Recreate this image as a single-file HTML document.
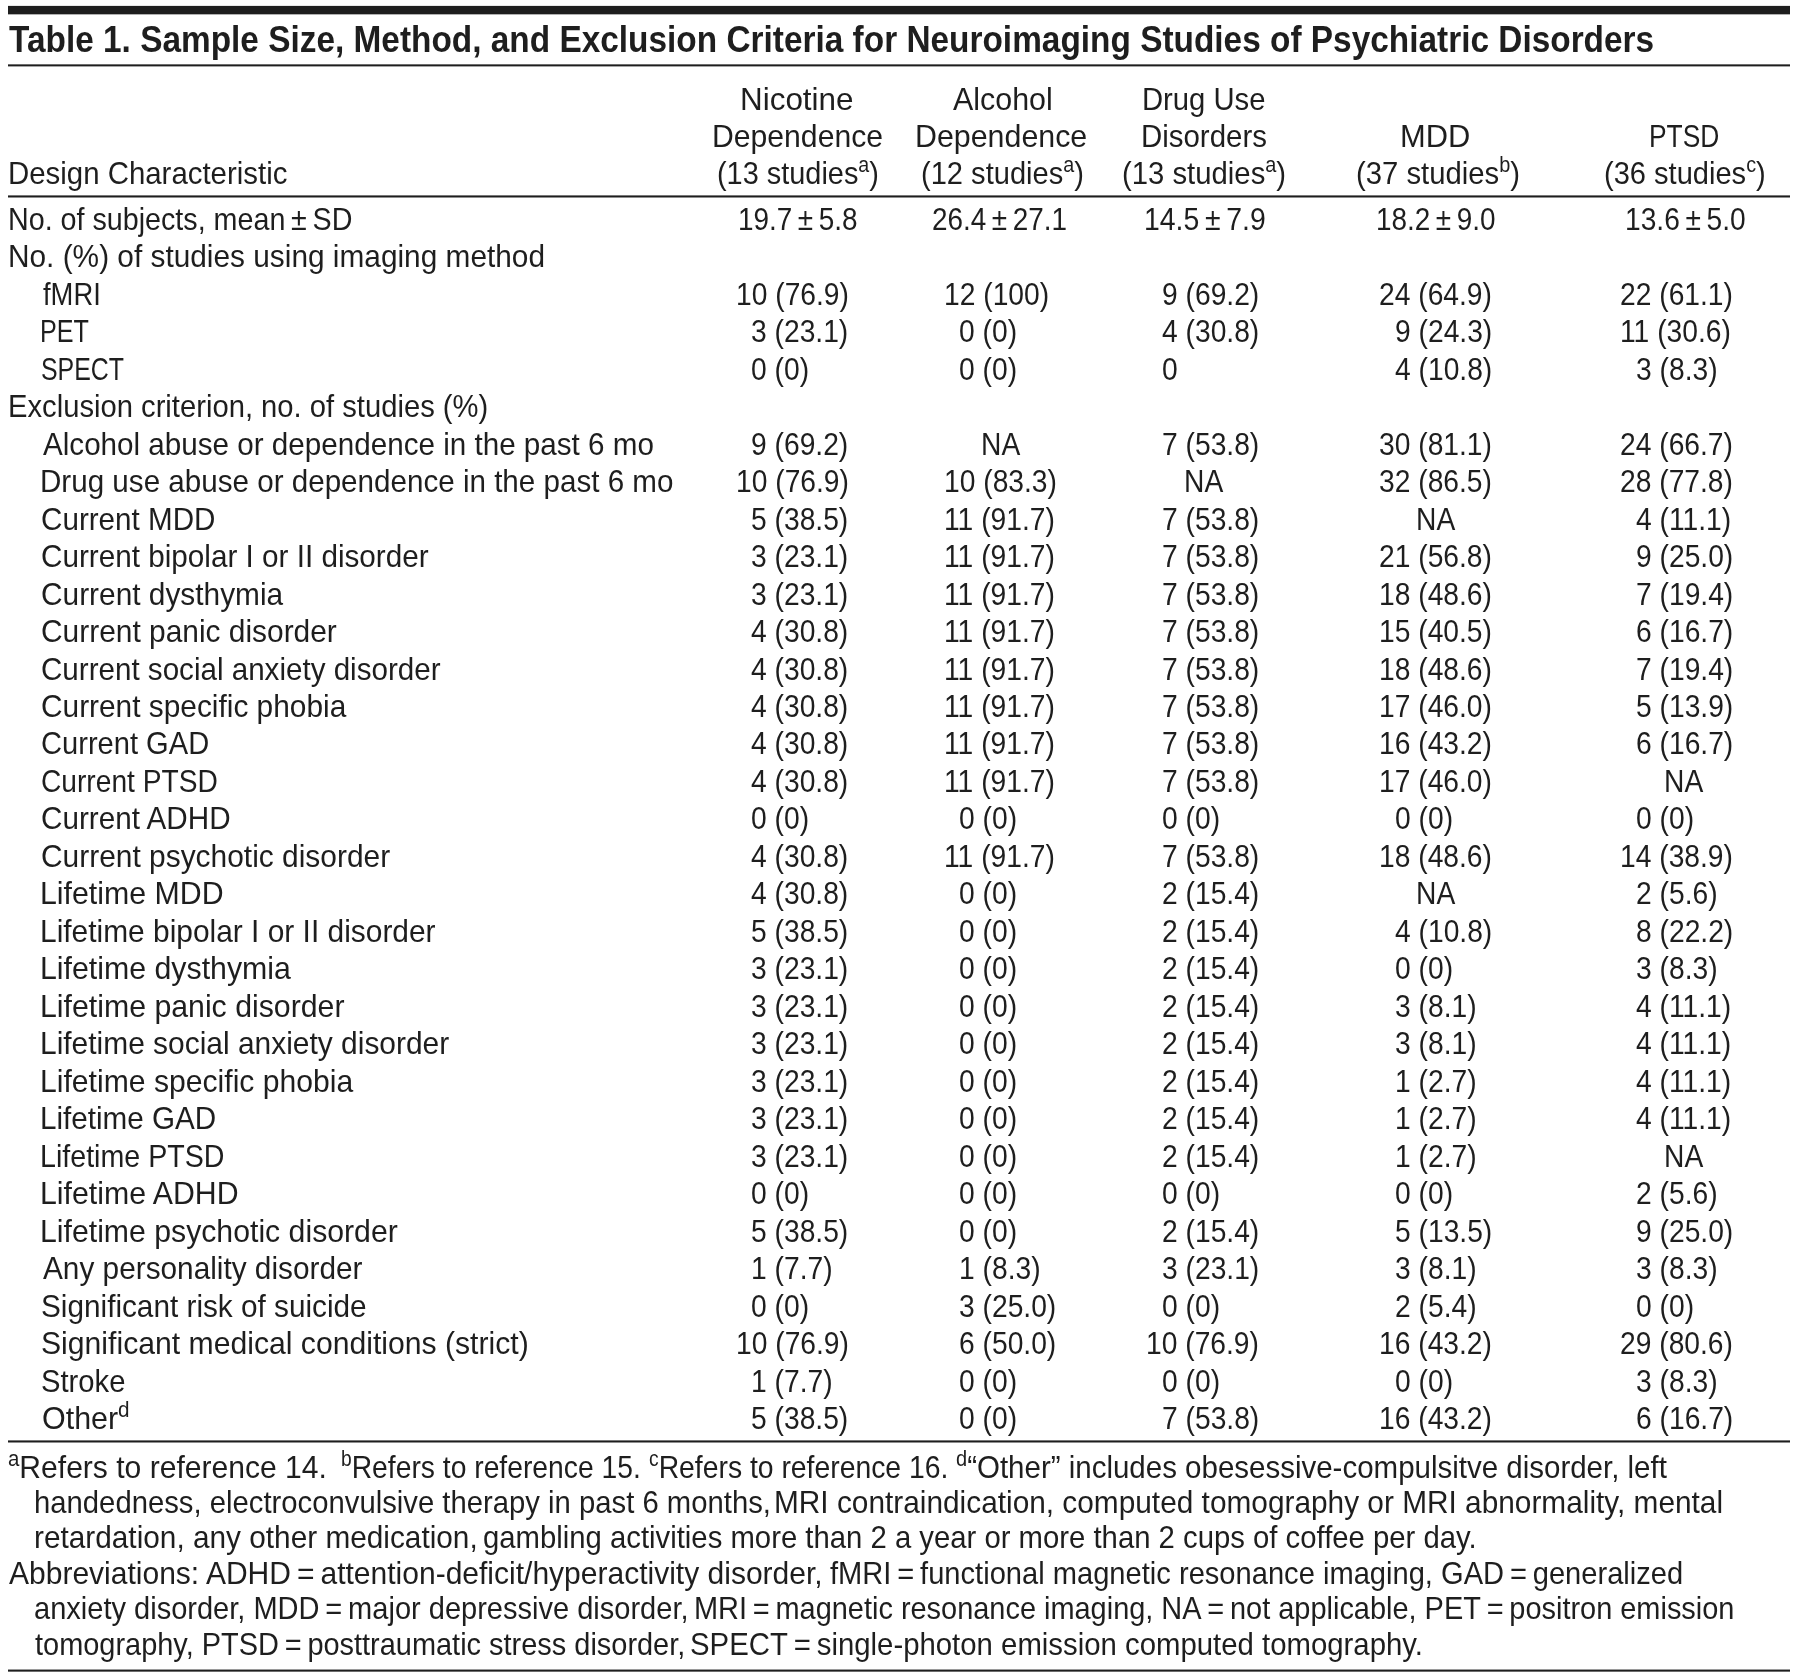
<!DOCTYPE html><html><head><meta charset="utf-8"><title>Table 1</title><style>html,body{margin:0;padding:0;background:#fff;}
body{position:relative;overflow:hidden;font-family:"Liberation Sans",sans-serif;color:#1e1e1e;}
.t{position:absolute;white-space:pre;}
.r{position:absolute;background:#1e1e1e;}
.sup{font-size:0.68em;position:relative;top:-0.56em;}
.w{position:absolute;left:0;top:0;width:1798px;height:1677px;will-change:transform;}
body{width:1798px;height:1677px;}</style></head><body>
<div class="w">
<div class="t" style="left:8.50px;top:20.70px;font-size:37.4px;line-height:37.4px;transform:scaleX(0.8930);transform-origin:0 0;font-weight:bold;">Table 1. Sample Size, Method, and Exclusion Criteria for Neuroimaging Studies of Psychiatric Disorders</div>
<div class="t" style="left:7.64px;top:157.00px;font-size:32.0px;line-height:32.0px;transform:scaleX(0.9187);transform-origin:0 0;">Design Characteristic</div>
<div class="t" style="left:740.45px;top:82.50px;font-size:32.0px;line-height:32.0px;transform:scaleX(0.9820);transform-origin:0 0;">Nicotine</div>
<div class="t" style="left:711.67px;top:119.70px;font-size:32.0px;line-height:32.0px;transform:scaleX(0.9424);transform-origin:0 0;">Dependence</div>
<div class="t" style="left:717.09px;top:157.00px;font-size:32.0px;line-height:32.0px;transform:scaleX(0.9029);transform-origin:0 0;">(13 studies<span class="sup">a</span>)</div>
<div class="t" style="left:952.50px;top:82.50px;font-size:32.0px;line-height:32.0px;transform:scaleX(0.9505);transform-origin:0 0;">Alcohol</div>
<div class="t" style="left:915.15px;top:119.70px;font-size:32.0px;line-height:32.0px;transform:scaleX(0.9492);transform-origin:0 0;">Dependence</div>
<div class="t" style="left:920.68px;top:157.00px;font-size:32.0px;line-height:32.0px;transform:scaleX(0.9086);transform-origin:0 0;">(12 studies<span class="sup">a</span>)</div>
<div class="t" style="left:1141.76px;top:82.50px;font-size:32.0px;line-height:32.0px;transform:scaleX(0.9137);transform-origin:0 0;">Drug Use</div>
<div class="t" style="left:1140.64px;top:119.70px;font-size:32.0px;line-height:32.0px;transform:scaleX(0.9195);transform-origin:0 0;">Disorders</div>
<div class="t" style="left:1122.17px;top:157.00px;font-size:32.0px;line-height:32.0px;transform:scaleX(0.9154);transform-origin:0 0;">(13 studies<span class="sup">a</span>)</div>
<div class="t" style="left:1399.71px;top:119.70px;font-size:32.0px;line-height:32.0px;transform:scaleX(0.9647);transform-origin:0 0;">MDD</div>
<div class="t" style="left:1356.17px;top:157.00px;font-size:32.0px;line-height:32.0px;transform:scaleX(0.9149);transform-origin:0 0;">(37 studies<span class="sup">b</span>)</div>
<div class="t" style="left:1649.13px;top:119.70px;font-size:32.0px;line-height:32.0px;transform:scaleX(0.8247);transform-origin:0 0;">PTSD</div>
<div class="t" style="left:1604.18px;top:157.00px;font-size:32.0px;line-height:32.0px;transform:scaleX(0.9080);transform-origin:0 0;">(36 studies<span class="sup">c</span>)</div>
<div class="t" style="left:7.91px;top:202.80px;font-size:32.0px;line-height:32.0px;transform:scaleX(0.8961);transform-origin:0 0;">No. of subjects, mean ± SD</div>
<div class="t" style="left:738.26px;top:202.80px;font-size:32.0px;line-height:32.0px;transform:scaleX(0.8716);transform-origin:0 0;">19.7 ± 5.8</div>
<div class="t" style="left:931.86px;top:202.80px;font-size:32.0px;line-height:32.0px;transform:scaleX(0.8711);transform-origin:0 0;">26.4 ± 27.1</div>
<div class="t" style="left:1143.82px;top:202.80px;font-size:32.0px;line-height:32.0px;transform:scaleX(0.8881);transform-origin:0 0;">14.5 ± 7.9</div>
<div class="t" style="left:1376.26px;top:202.80px;font-size:32.0px;line-height:32.0px;transform:scaleX(0.8716);transform-origin:0 0;">18.2 ± 9.0</div>
<div class="t" style="left:1625.34px;top:202.80px;font-size:32.0px;line-height:32.0px;transform:scaleX(0.8799);transform-origin:0 0;">13.6 ± 5.0</div>
<div class="t" style="left:7.80px;top:240.28px;font-size:32.0px;line-height:32.0px;transform:scaleX(0.9319);transform-origin:0 0;">No. (%) of studies using imaging method</div>
<div class="t" style="left:42.80px;top:277.75px;font-size:32.0px;line-height:32.0px;transform:scaleX(0.8554);transform-origin:0 0;">fMRI</div>
<div class="t" style="left:735.65px;top:277.75px;font-size:32.0px;line-height:32.0px;transform:scaleX(0.8820);transform-origin:0 0;">10 (76.9)</div>
<div class="t" style="left:943.65px;top:277.75px;font-size:32.0px;line-height:32.0px;transform:scaleX(0.8820);transform-origin:0 0;">12 (100)</div>
<div class="t" style="left:1162.08px;top:277.75px;font-size:32.0px;line-height:32.0px;transform:scaleX(0.8820);transform-origin:0 0;">9 (69.2)</div>
<div class="t" style="left:1379.38px;top:277.75px;font-size:32.0px;line-height:32.0px;transform:scaleX(0.8820);transform-origin:0 0;">24 (64.9)</div>
<div class="t" style="left:1620.18px;top:277.75px;font-size:32.0px;line-height:32.0px;transform:scaleX(0.8820);transform-origin:0 0;">22 (61.1)</div>
<div class="t" style="left:40.44px;top:315.23px;font-size:32.0px;line-height:32.0px;transform:scaleX(0.7864);transform-origin:0 0;">PET</div>
<div class="t" style="left:751.34px;top:315.23px;font-size:32.0px;line-height:32.0px;transform:scaleX(0.8820);transform-origin:0 0;">3 (23.1)</div>
<div class="t" style="left:959.34px;top:315.23px;font-size:32.0px;line-height:32.0px;transform:scaleX(0.8820);transform-origin:0 0;">0 (0)</div>
<div class="t" style="left:1162.08px;top:315.23px;font-size:32.0px;line-height:32.0px;transform:scaleX(0.8820);transform-origin:0 0;">4 (30.8)</div>
<div class="t" style="left:1395.08px;top:315.23px;font-size:32.0px;line-height:32.0px;transform:scaleX(0.8820);transform-origin:0 0;">9 (24.3)</div>
<div class="t" style="left:1620.18px;top:315.23px;font-size:32.0px;line-height:32.0px;transform:scaleX(0.8820);transform-origin:0 0;">11 (30.6)</div>
<div class="t" style="left:41.24px;top:352.70px;font-size:32.0px;line-height:32.0px;transform:scaleX(0.7788);transform-origin:0 0;">SPECT</div>
<div class="t" style="left:751.34px;top:352.70px;font-size:32.0px;line-height:32.0px;transform:scaleX(0.8820);transform-origin:0 0;">0 (0)</div>
<div class="t" style="left:959.34px;top:352.70px;font-size:32.0px;line-height:32.0px;transform:scaleX(0.8820);transform-origin:0 0;">0 (0)</div>
<div class="t" style="left:1162.08px;top:352.70px;font-size:32.0px;line-height:32.0px;transform:scaleX(0.8820);transform-origin:0 0;">0</div>
<div class="t" style="left:1395.08px;top:352.70px;font-size:32.0px;line-height:32.0px;transform:scaleX(0.8820);transform-origin:0 0;">4 (10.8)</div>
<div class="t" style="left:1635.88px;top:352.70px;font-size:32.0px;line-height:32.0px;transform:scaleX(0.8820);transform-origin:0 0;">3 (8.3)</div>
<div class="t" style="left:7.86px;top:390.18px;font-size:32.0px;line-height:32.0px;transform:scaleX(0.9123);transform-origin:0 0;">Exclusion criterion, no. of studies (%)</div>
<div class="t" style="left:42.80px;top:427.65px;font-size:32.0px;line-height:32.0px;transform:scaleX(0.9256);transform-origin:0 0;">Alcohol abuse or dependence in the past 6 mo</div>
<div class="t" style="left:751.34px;top:427.65px;font-size:32.0px;line-height:32.0px;transform:scaleX(0.8820);transform-origin:0 0;">9 (69.2)</div>
<div class="t" style="left:981.27px;top:427.65px;font-size:32.0px;line-height:32.0px;transform:scaleX(0.8820);transform-origin:0 0;">NA</div>
<div class="t" style="left:1162.08px;top:427.65px;font-size:32.0px;line-height:32.0px;transform:scaleX(0.8820);transform-origin:0 0;">7 (53.8)</div>
<div class="t" style="left:1379.38px;top:427.65px;font-size:32.0px;line-height:32.0px;transform:scaleX(0.8820);transform-origin:0 0;">30 (81.1)</div>
<div class="t" style="left:1620.18px;top:427.65px;font-size:32.0px;line-height:32.0px;transform:scaleX(0.8820);transform-origin:0 0;">24 (66.7)</div>
<div class="t" style="left:40.03px;top:465.12px;font-size:32.0px;line-height:32.0px;transform:scaleX(0.9249);transform-origin:0 0;">Drug use abuse or dependence in the past 6 mo</div>
<div class="t" style="left:735.65px;top:465.12px;font-size:32.0px;line-height:32.0px;transform:scaleX(0.8820);transform-origin:0 0;">10 (76.9)</div>
<div class="t" style="left:943.65px;top:465.12px;font-size:32.0px;line-height:32.0px;transform:scaleX(0.8820);transform-origin:0 0;">10 (83.3)</div>
<div class="t" style="left:1183.77px;top:465.12px;font-size:32.0px;line-height:32.0px;transform:scaleX(0.8820);transform-origin:0 0;">NA</div>
<div class="t" style="left:1379.38px;top:465.12px;font-size:32.0px;line-height:32.0px;transform:scaleX(0.8820);transform-origin:0 0;">32 (86.5)</div>
<div class="t" style="left:1620.18px;top:465.12px;font-size:32.0px;line-height:32.0px;transform:scaleX(0.8820);transform-origin:0 0;">28 (77.8)</div>
<div class="t" style="left:40.95px;top:502.60px;font-size:32.0px;line-height:32.0px;transform:scaleX(0.9259);transform-origin:0 0;">Current MDD</div>
<div class="t" style="left:751.34px;top:502.60px;font-size:32.0px;line-height:32.0px;transform:scaleX(0.8820);transform-origin:0 0;">5 (38.5)</div>
<div class="t" style="left:943.65px;top:502.60px;font-size:32.0px;line-height:32.0px;transform:scaleX(0.8820);transform-origin:0 0;">11 (91.7)</div>
<div class="t" style="left:1162.08px;top:502.60px;font-size:32.0px;line-height:32.0px;transform:scaleX(0.8820);transform-origin:0 0;">7 (53.8)</div>
<div class="t" style="left:1415.77px;top:502.60px;font-size:32.0px;line-height:32.0px;transform:scaleX(0.8820);transform-origin:0 0;">NA</div>
<div class="t" style="left:1635.88px;top:502.60px;font-size:32.0px;line-height:32.0px;transform:scaleX(0.8820);transform-origin:0 0;">4 (11.1)</div>
<div class="t" style="left:40.95px;top:540.08px;font-size:32.0px;line-height:32.0px;transform:scaleX(0.9275);transform-origin:0 0;">Current bipolar I or II disorder</div>
<div class="t" style="left:751.34px;top:540.08px;font-size:32.0px;line-height:32.0px;transform:scaleX(0.8820);transform-origin:0 0;">3 (23.1)</div>
<div class="t" style="left:943.65px;top:540.08px;font-size:32.0px;line-height:32.0px;transform:scaleX(0.8820);transform-origin:0 0;">11 (91.7)</div>
<div class="t" style="left:1162.08px;top:540.08px;font-size:32.0px;line-height:32.0px;transform:scaleX(0.8820);transform-origin:0 0;">7 (53.8)</div>
<div class="t" style="left:1379.38px;top:540.08px;font-size:32.0px;line-height:32.0px;transform:scaleX(0.8820);transform-origin:0 0;">21 (56.8)</div>
<div class="t" style="left:1635.88px;top:540.08px;font-size:32.0px;line-height:32.0px;transform:scaleX(0.8820);transform-origin:0 0;">9 (25.0)</div>
<div class="t" style="left:40.93px;top:577.55px;font-size:32.0px;line-height:32.0px;transform:scaleX(0.9329);transform-origin:0 0;">Current dysthymia</div>
<div class="t" style="left:751.34px;top:577.55px;font-size:32.0px;line-height:32.0px;transform:scaleX(0.8820);transform-origin:0 0;">3 (23.1)</div>
<div class="t" style="left:943.65px;top:577.55px;font-size:32.0px;line-height:32.0px;transform:scaleX(0.8820);transform-origin:0 0;">11 (91.7)</div>
<div class="t" style="left:1162.08px;top:577.55px;font-size:32.0px;line-height:32.0px;transform:scaleX(0.8820);transform-origin:0 0;">7 (53.8)</div>
<div class="t" style="left:1379.38px;top:577.55px;font-size:32.0px;line-height:32.0px;transform:scaleX(0.8820);transform-origin:0 0;">18 (48.6)</div>
<div class="t" style="left:1635.88px;top:577.55px;font-size:32.0px;line-height:32.0px;transform:scaleX(0.8820);transform-origin:0 0;">7 (19.4)</div>
<div class="t" style="left:40.93px;top:615.03px;font-size:32.0px;line-height:32.0px;transform:scaleX(0.9344);transform-origin:0 0;">Current panic disorder</div>
<div class="t" style="left:751.34px;top:615.03px;font-size:32.0px;line-height:32.0px;transform:scaleX(0.8820);transform-origin:0 0;">4 (30.8)</div>
<div class="t" style="left:943.65px;top:615.03px;font-size:32.0px;line-height:32.0px;transform:scaleX(0.8820);transform-origin:0 0;">11 (91.7)</div>
<div class="t" style="left:1162.08px;top:615.03px;font-size:32.0px;line-height:32.0px;transform:scaleX(0.8820);transform-origin:0 0;">7 (53.8)</div>
<div class="t" style="left:1379.38px;top:615.03px;font-size:32.0px;line-height:32.0px;transform:scaleX(0.8820);transform-origin:0 0;">15 (40.5)</div>
<div class="t" style="left:1635.88px;top:615.03px;font-size:32.0px;line-height:32.0px;transform:scaleX(0.8820);transform-origin:0 0;">6 (16.7)</div>
<div class="t" style="left:40.95px;top:652.50px;font-size:32.0px;line-height:32.0px;transform:scaleX(0.9244);transform-origin:0 0;">Current social anxiety disorder</div>
<div class="t" style="left:751.34px;top:652.50px;font-size:32.0px;line-height:32.0px;transform:scaleX(0.8820);transform-origin:0 0;">4 (30.8)</div>
<div class="t" style="left:943.65px;top:652.50px;font-size:32.0px;line-height:32.0px;transform:scaleX(0.8820);transform-origin:0 0;">11 (91.7)</div>
<div class="t" style="left:1162.08px;top:652.50px;font-size:32.0px;line-height:32.0px;transform:scaleX(0.8820);transform-origin:0 0;">7 (53.8)</div>
<div class="t" style="left:1379.38px;top:652.50px;font-size:32.0px;line-height:32.0px;transform:scaleX(0.8820);transform-origin:0 0;">18 (48.6)</div>
<div class="t" style="left:1635.88px;top:652.50px;font-size:32.0px;line-height:32.0px;transform:scaleX(0.8820);transform-origin:0 0;">7 (19.4)</div>
<div class="t" style="left:40.93px;top:689.98px;font-size:32.0px;line-height:32.0px;transform:scaleX(0.9326);transform-origin:0 0;">Current specific phobia</div>
<div class="t" style="left:751.34px;top:689.98px;font-size:32.0px;line-height:32.0px;transform:scaleX(0.8820);transform-origin:0 0;">4 (30.8)</div>
<div class="t" style="left:943.65px;top:689.98px;font-size:32.0px;line-height:32.0px;transform:scaleX(0.8820);transform-origin:0 0;">11 (91.7)</div>
<div class="t" style="left:1162.08px;top:689.98px;font-size:32.0px;line-height:32.0px;transform:scaleX(0.8820);transform-origin:0 0;">7 (53.8)</div>
<div class="t" style="left:1379.38px;top:689.98px;font-size:32.0px;line-height:32.0px;transform:scaleX(0.8820);transform-origin:0 0;">17 (46.0)</div>
<div class="t" style="left:1635.88px;top:689.98px;font-size:32.0px;line-height:32.0px;transform:scaleX(0.8820);transform-origin:0 0;">5 (13.9)</div>
<div class="t" style="left:40.98px;top:727.45px;font-size:32.0px;line-height:32.0px;transform:scaleX(0.9094);transform-origin:0 0;">Current GAD</div>
<div class="t" style="left:751.34px;top:727.45px;font-size:32.0px;line-height:32.0px;transform:scaleX(0.8820);transform-origin:0 0;">4 (30.8)</div>
<div class="t" style="left:943.65px;top:727.45px;font-size:32.0px;line-height:32.0px;transform:scaleX(0.8820);transform-origin:0 0;">11 (91.7)</div>
<div class="t" style="left:1162.08px;top:727.45px;font-size:32.0px;line-height:32.0px;transform:scaleX(0.8820);transform-origin:0 0;">7 (53.8)</div>
<div class="t" style="left:1379.38px;top:727.45px;font-size:32.0px;line-height:32.0px;transform:scaleX(0.8820);transform-origin:0 0;">16 (43.2)</div>
<div class="t" style="left:1635.88px;top:727.45px;font-size:32.0px;line-height:32.0px;transform:scaleX(0.8820);transform-origin:0 0;">6 (16.7)</div>
<div class="t" style="left:41.04px;top:764.92px;font-size:32.0px;line-height:32.0px;transform:scaleX(0.8797);transform-origin:0 0;">Current PTSD</div>
<div class="t" style="left:751.34px;top:764.92px;font-size:32.0px;line-height:32.0px;transform:scaleX(0.8820);transform-origin:0 0;">4 (30.8)</div>
<div class="t" style="left:943.65px;top:764.92px;font-size:32.0px;line-height:32.0px;transform:scaleX(0.8820);transform-origin:0 0;">11 (91.7)</div>
<div class="t" style="left:1162.08px;top:764.92px;font-size:32.0px;line-height:32.0px;transform:scaleX(0.8820);transform-origin:0 0;">7 (53.8)</div>
<div class="t" style="left:1379.38px;top:764.92px;font-size:32.0px;line-height:32.0px;transform:scaleX(0.8820);transform-origin:0 0;">17 (46.0)</div>
<div class="t" style="left:1664.27px;top:764.92px;font-size:32.0px;line-height:32.0px;transform:scaleX(0.8820);transform-origin:0 0;">NA</div>
<div class="t" style="left:40.95px;top:802.40px;font-size:32.0px;line-height:32.0px;transform:scaleX(0.9269);transform-origin:0 0;">Current ADHD</div>
<div class="t" style="left:751.34px;top:802.40px;font-size:32.0px;line-height:32.0px;transform:scaleX(0.8820);transform-origin:0 0;">0 (0)</div>
<div class="t" style="left:959.34px;top:802.40px;font-size:32.0px;line-height:32.0px;transform:scaleX(0.8820);transform-origin:0 0;">0 (0)</div>
<div class="t" style="left:1162.08px;top:802.40px;font-size:32.0px;line-height:32.0px;transform:scaleX(0.8820);transform-origin:0 0;">0 (0)</div>
<div class="t" style="left:1395.08px;top:802.40px;font-size:32.0px;line-height:32.0px;transform:scaleX(0.8820);transform-origin:0 0;">0 (0)</div>
<div class="t" style="left:1635.88px;top:802.40px;font-size:32.0px;line-height:32.0px;transform:scaleX(0.8820);transform-origin:0 0;">0 (0)</div>
<div class="t" style="left:40.93px;top:839.88px;font-size:32.0px;line-height:32.0px;transform:scaleX(0.9348);transform-origin:0 0;">Current psychotic disorder</div>
<div class="t" style="left:751.34px;top:839.88px;font-size:32.0px;line-height:32.0px;transform:scaleX(0.8820);transform-origin:0 0;">4 (30.8)</div>
<div class="t" style="left:943.65px;top:839.88px;font-size:32.0px;line-height:32.0px;transform:scaleX(0.8820);transform-origin:0 0;">11 (91.7)</div>
<div class="t" style="left:1162.08px;top:839.88px;font-size:32.0px;line-height:32.0px;transform:scaleX(0.8820);transform-origin:0 0;">7 (53.8)</div>
<div class="t" style="left:1379.38px;top:839.88px;font-size:32.0px;line-height:32.0px;transform:scaleX(0.8820);transform-origin:0 0;">18 (48.6)</div>
<div class="t" style="left:1620.18px;top:839.88px;font-size:32.0px;line-height:32.0px;transform:scaleX(0.8820);transform-origin:0 0;">14 (38.9)</div>
<div class="t" style="left:39.96px;top:877.35px;font-size:32.0px;line-height:32.0px;transform:scaleX(0.9471);transform-origin:0 0;">Lifetime MDD</div>
<div class="t" style="left:751.34px;top:877.35px;font-size:32.0px;line-height:32.0px;transform:scaleX(0.8820);transform-origin:0 0;">4 (30.8)</div>
<div class="t" style="left:959.34px;top:877.35px;font-size:32.0px;line-height:32.0px;transform:scaleX(0.8820);transform-origin:0 0;">0 (0)</div>
<div class="t" style="left:1162.08px;top:877.35px;font-size:32.0px;line-height:32.0px;transform:scaleX(0.8820);transform-origin:0 0;">2 (15.4)</div>
<div class="t" style="left:1415.77px;top:877.35px;font-size:32.0px;line-height:32.0px;transform:scaleX(0.8820);transform-origin:0 0;">NA</div>
<div class="t" style="left:1635.88px;top:877.35px;font-size:32.0px;line-height:32.0px;transform:scaleX(0.8820);transform-origin:0 0;">2 (5.6)</div>
<div class="t" style="left:40.00px;top:914.83px;font-size:32.0px;line-height:32.0px;transform:scaleX(0.9345);transform-origin:0 0;">Lifetime bipolar I or II disorder</div>
<div class="t" style="left:751.34px;top:914.83px;font-size:32.0px;line-height:32.0px;transform:scaleX(0.8820);transform-origin:0 0;">5 (38.5)</div>
<div class="t" style="left:959.34px;top:914.83px;font-size:32.0px;line-height:32.0px;transform:scaleX(0.8820);transform-origin:0 0;">0 (0)</div>
<div class="t" style="left:1162.08px;top:914.83px;font-size:32.0px;line-height:32.0px;transform:scaleX(0.8820);transform-origin:0 0;">2 (15.4)</div>
<div class="t" style="left:1395.08px;top:914.83px;font-size:32.0px;line-height:32.0px;transform:scaleX(0.8820);transform-origin:0 0;">4 (10.8)</div>
<div class="t" style="left:1635.88px;top:914.83px;font-size:32.0px;line-height:32.0px;transform:scaleX(0.8820);transform-origin:0 0;">8 (22.2)</div>
<div class="t" style="left:39.96px;top:952.30px;font-size:32.0px;line-height:32.0px;transform:scaleX(0.9469);transform-origin:0 0;">Lifetime dysthymia</div>
<div class="t" style="left:751.34px;top:952.30px;font-size:32.0px;line-height:32.0px;transform:scaleX(0.8820);transform-origin:0 0;">3 (23.1)</div>
<div class="t" style="left:959.34px;top:952.30px;font-size:32.0px;line-height:32.0px;transform:scaleX(0.8820);transform-origin:0 0;">0 (0)</div>
<div class="t" style="left:1162.08px;top:952.30px;font-size:32.0px;line-height:32.0px;transform:scaleX(0.8820);transform-origin:0 0;">2 (15.4)</div>
<div class="t" style="left:1395.08px;top:952.30px;font-size:32.0px;line-height:32.0px;transform:scaleX(0.8820);transform-origin:0 0;">0 (0)</div>
<div class="t" style="left:1635.88px;top:952.30px;font-size:32.0px;line-height:32.0px;transform:scaleX(0.8820);transform-origin:0 0;">3 (8.3)</div>
<div class="t" style="left:39.96px;top:989.78px;font-size:32.0px;line-height:32.0px;transform:scaleX(0.9459);transform-origin:0 0;">Lifetime panic disorder</div>
<div class="t" style="left:751.34px;top:989.78px;font-size:32.0px;line-height:32.0px;transform:scaleX(0.8820);transform-origin:0 0;">3 (23.1)</div>
<div class="t" style="left:959.34px;top:989.78px;font-size:32.0px;line-height:32.0px;transform:scaleX(0.8820);transform-origin:0 0;">0 (0)</div>
<div class="t" style="left:1162.08px;top:989.78px;font-size:32.0px;line-height:32.0px;transform:scaleX(0.8820);transform-origin:0 0;">2 (15.4)</div>
<div class="t" style="left:1395.08px;top:989.78px;font-size:32.0px;line-height:32.0px;transform:scaleX(0.8820);transform-origin:0 0;">3 (8.1)</div>
<div class="t" style="left:1635.88px;top:989.78px;font-size:32.0px;line-height:32.0px;transform:scaleX(0.8820);transform-origin:0 0;">4 (11.1)</div>
<div class="t" style="left:39.99px;top:1027.25px;font-size:32.0px;line-height:32.0px;transform:scaleX(0.9353);transform-origin:0 0;">Lifetime social anxiety disorder</div>
<div class="t" style="left:751.34px;top:1027.25px;font-size:32.0px;line-height:32.0px;transform:scaleX(0.8820);transform-origin:0 0;">3 (23.1)</div>
<div class="t" style="left:959.34px;top:1027.25px;font-size:32.0px;line-height:32.0px;transform:scaleX(0.8820);transform-origin:0 0;">0 (0)</div>
<div class="t" style="left:1162.08px;top:1027.25px;font-size:32.0px;line-height:32.0px;transform:scaleX(0.8820);transform-origin:0 0;">2 (15.4)</div>
<div class="t" style="left:1395.08px;top:1027.25px;font-size:32.0px;line-height:32.0px;transform:scaleX(0.8820);transform-origin:0 0;">3 (8.1)</div>
<div class="t" style="left:1635.88px;top:1027.25px;font-size:32.0px;line-height:32.0px;transform:scaleX(0.8820);transform-origin:0 0;">4 (11.1)</div>
<div class="t" style="left:39.97px;top:1064.73px;font-size:32.0px;line-height:32.0px;transform:scaleX(0.9418);transform-origin:0 0;">Lifetime specific phobia</div>
<div class="t" style="left:751.34px;top:1064.73px;font-size:32.0px;line-height:32.0px;transform:scaleX(0.8820);transform-origin:0 0;">3 (23.1)</div>
<div class="t" style="left:959.34px;top:1064.73px;font-size:32.0px;line-height:32.0px;transform:scaleX(0.8820);transform-origin:0 0;">0 (0)</div>
<div class="t" style="left:1162.08px;top:1064.73px;font-size:32.0px;line-height:32.0px;transform:scaleX(0.8820);transform-origin:0 0;">2 (15.4)</div>
<div class="t" style="left:1395.08px;top:1064.73px;font-size:32.0px;line-height:32.0px;transform:scaleX(0.8820);transform-origin:0 0;">1 (2.7)</div>
<div class="t" style="left:1635.88px;top:1064.73px;font-size:32.0px;line-height:32.0px;transform:scaleX(0.8820);transform-origin:0 0;">4 (11.1)</div>
<div class="t" style="left:40.02px;top:1102.20px;font-size:32.0px;line-height:32.0px;transform:scaleX(0.9263);transform-origin:0 0;">Lifetime GAD</div>
<div class="t" style="left:751.34px;top:1102.20px;font-size:32.0px;line-height:32.0px;transform:scaleX(0.8820);transform-origin:0 0;">3 (23.1)</div>
<div class="t" style="left:959.34px;top:1102.20px;font-size:32.0px;line-height:32.0px;transform:scaleX(0.8820);transform-origin:0 0;">0 (0)</div>
<div class="t" style="left:1162.08px;top:1102.20px;font-size:32.0px;line-height:32.0px;transform:scaleX(0.8820);transform-origin:0 0;">2 (15.4)</div>
<div class="t" style="left:1395.08px;top:1102.20px;font-size:32.0px;line-height:32.0px;transform:scaleX(0.8820);transform-origin:0 0;">1 (2.7)</div>
<div class="t" style="left:1635.88px;top:1102.20px;font-size:32.0px;line-height:32.0px;transform:scaleX(0.8820);transform-origin:0 0;">4 (11.1)</div>
<div class="t" style="left:40.12px;top:1139.67px;font-size:32.0px;line-height:32.0px;transform:scaleX(0.8946);transform-origin:0 0;">Lifetime PTSD</div>
<div class="t" style="left:751.34px;top:1139.67px;font-size:32.0px;line-height:32.0px;transform:scaleX(0.8820);transform-origin:0 0;">3 (23.1)</div>
<div class="t" style="left:959.34px;top:1139.67px;font-size:32.0px;line-height:32.0px;transform:scaleX(0.8820);transform-origin:0 0;">0 (0)</div>
<div class="t" style="left:1162.08px;top:1139.67px;font-size:32.0px;line-height:32.0px;transform:scaleX(0.8820);transform-origin:0 0;">2 (15.4)</div>
<div class="t" style="left:1395.08px;top:1139.67px;font-size:32.0px;line-height:32.0px;transform:scaleX(0.8820);transform-origin:0 0;">1 (2.7)</div>
<div class="t" style="left:1664.27px;top:1139.67px;font-size:32.0px;line-height:32.0px;transform:scaleX(0.8820);transform-origin:0 0;">NA</div>
<div class="t" style="left:39.96px;top:1177.15px;font-size:32.0px;line-height:32.0px;transform:scaleX(0.9463);transform-origin:0 0;">Lifetime ADHD</div>
<div class="t" style="left:751.34px;top:1177.15px;font-size:32.0px;line-height:32.0px;transform:scaleX(0.8820);transform-origin:0 0;">0 (0)</div>
<div class="t" style="left:959.34px;top:1177.15px;font-size:32.0px;line-height:32.0px;transform:scaleX(0.8820);transform-origin:0 0;">0 (0)</div>
<div class="t" style="left:1162.08px;top:1177.15px;font-size:32.0px;line-height:32.0px;transform:scaleX(0.8820);transform-origin:0 0;">0 (0)</div>
<div class="t" style="left:1395.08px;top:1177.15px;font-size:32.0px;line-height:32.0px;transform:scaleX(0.8820);transform-origin:0 0;">0 (0)</div>
<div class="t" style="left:1635.88px;top:1177.15px;font-size:32.0px;line-height:32.0px;transform:scaleX(0.8820);transform-origin:0 0;">2 (5.6)</div>
<div class="t" style="left:39.97px;top:1214.62px;font-size:32.0px;line-height:32.0px;transform:scaleX(0.9445);transform-origin:0 0;">Lifetime psychotic disorder</div>
<div class="t" style="left:751.34px;top:1214.62px;font-size:32.0px;line-height:32.0px;transform:scaleX(0.8820);transform-origin:0 0;">5 (38.5)</div>
<div class="t" style="left:959.34px;top:1214.62px;font-size:32.0px;line-height:32.0px;transform:scaleX(0.8820);transform-origin:0 0;">0 (0)</div>
<div class="t" style="left:1162.08px;top:1214.62px;font-size:32.0px;line-height:32.0px;transform:scaleX(0.8820);transform-origin:0 0;">2 (15.4)</div>
<div class="t" style="left:1395.08px;top:1214.62px;font-size:32.0px;line-height:32.0px;transform:scaleX(0.8820);transform-origin:0 0;">5 (13.5)</div>
<div class="t" style="left:1635.88px;top:1214.62px;font-size:32.0px;line-height:32.0px;transform:scaleX(0.8820);transform-origin:0 0;">9 (25.0)</div>
<div class="t" style="left:42.80px;top:1252.10px;font-size:32.0px;line-height:32.0px;transform:scaleX(0.9306);transform-origin:0 0;">Any personality disorder</div>
<div class="t" style="left:751.34px;top:1252.10px;font-size:32.0px;line-height:32.0px;transform:scaleX(0.8820);transform-origin:0 0;">1 (7.7)</div>
<div class="t" style="left:959.34px;top:1252.10px;font-size:32.0px;line-height:32.0px;transform:scaleX(0.8820);transform-origin:0 0;">1 (8.3)</div>
<div class="t" style="left:1162.08px;top:1252.10px;font-size:32.0px;line-height:32.0px;transform:scaleX(0.8820);transform-origin:0 0;">3 (23.1)</div>
<div class="t" style="left:1395.08px;top:1252.10px;font-size:32.0px;line-height:32.0px;transform:scaleX(0.8820);transform-origin:0 0;">3 (8.1)</div>
<div class="t" style="left:1635.88px;top:1252.10px;font-size:32.0px;line-height:32.0px;transform:scaleX(0.8820);transform-origin:0 0;">3 (8.3)</div>
<div class="t" style="left:40.94px;top:1289.58px;font-size:32.0px;line-height:32.0px;transform:scaleX(0.9294);transform-origin:0 0;">Significant risk of suicide</div>
<div class="t" style="left:751.34px;top:1289.58px;font-size:32.0px;line-height:32.0px;transform:scaleX(0.8820);transform-origin:0 0;">0 (0)</div>
<div class="t" style="left:959.34px;top:1289.58px;font-size:32.0px;line-height:32.0px;transform:scaleX(0.8820);transform-origin:0 0;">3 (25.0)</div>
<div class="t" style="left:1162.08px;top:1289.58px;font-size:32.0px;line-height:32.0px;transform:scaleX(0.8820);transform-origin:0 0;">0 (0)</div>
<div class="t" style="left:1395.08px;top:1289.58px;font-size:32.0px;line-height:32.0px;transform:scaleX(0.8820);transform-origin:0 0;">2 (5.4)</div>
<div class="t" style="left:1635.88px;top:1289.58px;font-size:32.0px;line-height:32.0px;transform:scaleX(0.8820);transform-origin:0 0;">0 (0)</div>
<div class="t" style="left:40.92px;top:1327.05px;font-size:32.0px;line-height:32.0px;transform:scaleX(0.9424);transform-origin:0 0;">Significant medical conditions (strict)</div>
<div class="t" style="left:735.65px;top:1327.05px;font-size:32.0px;line-height:32.0px;transform:scaleX(0.8820);transform-origin:0 0;">10 (76.9)</div>
<div class="t" style="left:959.34px;top:1327.05px;font-size:32.0px;line-height:32.0px;transform:scaleX(0.8820);transform-origin:0 0;">6 (50.0)</div>
<div class="t" style="left:1146.38px;top:1327.05px;font-size:32.0px;line-height:32.0px;transform:scaleX(0.8820);transform-origin:0 0;">10 (76.9)</div>
<div class="t" style="left:1379.38px;top:1327.05px;font-size:32.0px;line-height:32.0px;transform:scaleX(0.8820);transform-origin:0 0;">16 (43.2)</div>
<div class="t" style="left:1620.18px;top:1327.05px;font-size:32.0px;line-height:32.0px;transform:scaleX(0.8820);transform-origin:0 0;">29 (80.6)</div>
<div class="t" style="left:40.97px;top:1364.53px;font-size:32.0px;line-height:32.0px;transform:scaleX(0.9135);transform-origin:0 0;">Stroke</div>
<div class="t" style="left:751.34px;top:1364.53px;font-size:32.0px;line-height:32.0px;transform:scaleX(0.8820);transform-origin:0 0;">1 (7.7)</div>
<div class="t" style="left:959.34px;top:1364.53px;font-size:32.0px;line-height:32.0px;transform:scaleX(0.8820);transform-origin:0 0;">0 (0)</div>
<div class="t" style="left:1162.08px;top:1364.53px;font-size:32.0px;line-height:32.0px;transform:scaleX(0.8820);transform-origin:0 0;">0 (0)</div>
<div class="t" style="left:1395.08px;top:1364.53px;font-size:32.0px;line-height:32.0px;transform:scaleX(0.8820);transform-origin:0 0;">0 (0)</div>
<div class="t" style="left:1635.88px;top:1364.53px;font-size:32.0px;line-height:32.0px;transform:scaleX(0.8820);transform-origin:0 0;">3 (8.3)</div>
<div class="t" style="left:41.85px;top:1402.00px;font-size:32.0px;line-height:32.0px;transform:scaleX(0.9511);transform-origin:0 0;">Other<span class="sup">d</span></div>
<div class="t" style="left:751.34px;top:1402.00px;font-size:32.0px;line-height:32.0px;transform:scaleX(0.8820);transform-origin:0 0;">5 (38.5)</div>
<div class="t" style="left:959.34px;top:1402.00px;font-size:32.0px;line-height:32.0px;transform:scaleX(0.8820);transform-origin:0 0;">0 (0)</div>
<div class="t" style="left:1162.08px;top:1402.00px;font-size:32.0px;line-height:32.0px;transform:scaleX(0.8820);transform-origin:0 0;">7 (53.8)</div>
<div class="t" style="left:1379.38px;top:1402.00px;font-size:32.0px;line-height:32.0px;transform:scaleX(0.8820);transform-origin:0 0;">16 (43.2)</div>
<div class="t" style="left:1635.88px;top:1402.00px;font-size:32.0px;line-height:32.0px;transform:scaleX(0.8820);transform-origin:0 0;">6 (16.7)</div>
<div class="t" style="left:33.57px;top:1485.90px;font-size:32.0px;line-height:32.0px;transform:scaleX(0.9145);transform-origin:0 0;">handedness, electroconvulsive therapy in past 6 months,</div>
<div class="t" style="left:774.00px;top:1485.90px;font-size:32.0px;line-height:32.0px;transform:scaleX(0.9318);transform-origin:0 0;">MRI contraindication, computed tomography or MRI abnormality, mental</div>
<div class="t" style="left:33.54px;top:1521.30px;font-size:32.0px;line-height:32.0px;transform:scaleX(0.9307);transform-origin:0 0;">retardation, any other medication,</div>
<div class="t" style="left:483.18px;top:1521.30px;font-size:32.0px;line-height:32.0px;transform:scaleX(0.9153);transform-origin:0 0;">gambling activities more than 2 a year or more than 2 cups of coffee per day.</div>
<div class="t" style="left:9.30px;top:1556.60px;font-size:32.0px;line-height:32.0px;transform:scaleX(0.9380);transform-origin:0 0;">Abbreviations: ADHD = attention-deficit/hyperactivity disorder,</div>
<div class="t" style="left:830.20px;top:1556.60px;font-size:32.0px;line-height:32.0px;transform:scaleX(0.9095);transform-origin:0 0;">fMRI = functional magnetic resonance imaging, GAD = generalized</div>
<div class="t" style="left:34.49px;top:1592.30px;font-size:32.0px;line-height:32.0px;transform:scaleX(0.9071);transform-origin:0 0;">anxiety disorder, MDD = major depressive disorder,</div>
<div class="t" style="left:693.99px;top:1592.30px;font-size:32.0px;line-height:32.0px;transform:scaleX(0.9039);transform-origin:0 0;">MRI = magnetic resonance imaging, NA = not applicable, PET = positron emission</div>
<div class="t" style="left:35.40px;top:1627.90px;font-size:32.0px;line-height:32.0px;transform:scaleX(0.9042);transform-origin:0 0;">tomography, PTSD = posttraumatic stress disorder,</div>
<div class="t" style="left:690.47px;top:1627.90px;font-size:32.0px;line-height:32.0px;transform:scaleX(0.9170);transform-origin:0 0;">SPECT = single-photon emission computed tomography.</div>
<div class="t" style="left:8.36px;top:1450.70px;font-size:32.0px;line-height:32.0px;transform:scaleX(0.9393);transform-origin:0 0;"><span class="sup">a</span>Refers to reference 14.</div>
<div class="t" style="left:341.02px;top:1450.70px;font-size:32.0px;line-height:32.0px;transform:scaleX(0.8833);transform-origin:0 0;"><span class="sup">b</span>Refers to reference 15.</div>
<div class="t" style="left:649.11px;top:1450.70px;font-size:32.0px;line-height:32.0px;transform:scaleX(0.8853);transform-origin:0 0;"><span class="sup">c</span>Refers to reference 16.</div>
<div class="t" style="left:956.08px;top:1450.70px;font-size:32.0px;line-height:32.0px;transform:scaleX(0.9214);transform-origin:0 0;"><span class="sup">d</span>“Other” includes obesessive-compulsitve disorder, left</div>
<div class="r" style="left:8px;top:5px;width:1782px;height:1px;opacity:0.1"></div>
<div class="r" style="left:8px;top:6px;width:1782px;height:1px;opacity:1.0"></div>
<div class="r" style="left:8px;top:7px;width:1782px;height:1px;opacity:1.0"></div>
<div class="r" style="left:8px;top:8px;width:1782px;height:1px;opacity:1.0"></div>
<div class="r" style="left:8px;top:9px;width:1782px;height:1px;opacity:1.0"></div>
<div class="r" style="left:8px;top:10px;width:1782px;height:1px;opacity:1.0"></div>
<div class="r" style="left:8px;top:11px;width:1782px;height:1px;opacity:1.0"></div>
<div class="r" style="left:8px;top:12px;width:1782px;height:1px;opacity:1.0"></div>
<div class="r" style="left:8px;top:13px;width:1782px;height:1px;opacity:1.0"></div>
<div class="r" style="left:8px;top:14px;width:1782px;height:1px;opacity:0.35"></div>
<div class="r" style="left:8px;top:64px;width:1782px;height:1px;opacity:0.65"></div>
<div class="r" style="left:8px;top:65px;width:1782px;height:1px;opacity:1.0"></div>
<div class="r" style="left:8px;top:66px;width:1782px;height:1px;opacity:0.4"></div>
<div class="r" style="left:8px;top:195px;width:1782px;height:1px;opacity:0.6"></div>
<div class="r" style="left:8px;top:196px;width:1782px;height:1px;opacity:1.0"></div>
<div class="r" style="left:8px;top:197px;width:1782px;height:1px;opacity:0.5"></div>
<div class="r" style="left:8px;top:1440px;width:1782px;height:1px;opacity:0.6"></div>
<div class="r" style="left:8px;top:1441px;width:1782px;height:1px;opacity:1.0"></div>
<div class="r" style="left:8px;top:1442px;width:1782px;height:1px;opacity:0.5"></div>
<div class="r" style="left:8px;top:1669px;width:1782px;height:1px;opacity:0.45"></div>
<div class="r" style="left:8px;top:1670px;width:1782px;height:1px;opacity:1.0"></div>
<div class="r" style="left:8px;top:1671px;width:1782px;height:1px;opacity:0.65"></div>
</div>
</body></html>
